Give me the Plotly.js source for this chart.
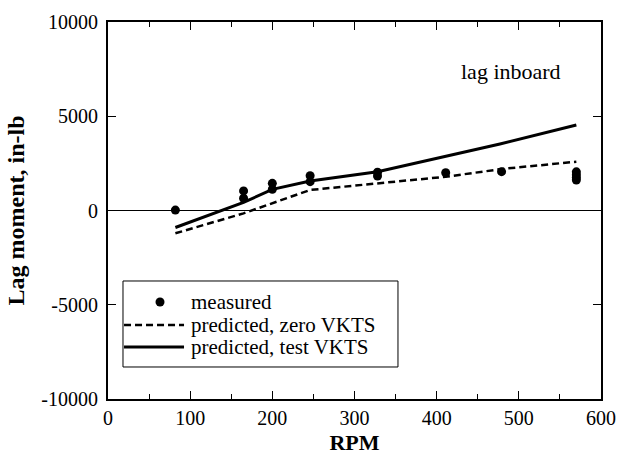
<!DOCTYPE html>
<html>
<head>
<meta charset="utf-8">
<script src="https://cdn.plot.ly/plotly-3.0.1.min.js"></script>
<style>html,body{margin:0;padding:0;background:#fff;}#chart{width:629px;height:465px;}</style>
</head>
<body>
<div id="chart"></div>
<script>
// Measured data
const measuredRPM = [82, 165, 165, 200, 200, 246, 246, 328, 328, 411, 479, 570, 570, 570, 570];
const measuredMoment = [20, 1040, 650, 1440, 1130, 1850, 1530, 2030, 1830, 2000, 2060, 2050, 1900, 1750, 1620];

// Predicted, zero VKTS (dashed)
const zeroRPM = [82, 165, 246, 328, 411, 479, 570];
const zeroMoment = [-1210, -150, 1090, 1440, 1790, 2200, 2590];

// Predicted, test VKTS (solid)
const testRPM = [82, 165, 200, 246, 328, 477, 570];
const testMoment = [-900, 430, 1120, 1560, 2060, 3530, 4540];

// Axis ticks
const xTicks = [0, 100, 200, 300, 400, 500, 600];
const xTickText = ['0', '100', '200', '300', '400', '500', '600'];
const yTicks = [-10000, -5000, 0, 5000, 10000];
const yTickText = ['-10000', '-5000', '0', '5000', '10000'];

const seriesNames = ['measured', 'predicted, zero VKTS', 'predicted, test VKTS'];

const serif = 'Liberation Serif, Times New Roman, serif';

const traces = [
  {x: measuredRPM, y: measuredMoment, mode: 'markers', type: 'scatter', name: seriesNames[0],
   marker: {color: '#000', size: 9}},
  {x: zeroRPM, y: zeroMoment, mode: 'lines', type: 'scatter', name: seriesNames[1],
   line: {color: '#000', width: 2.5, dash: '7px,4px'}},
  {x: testRPM, y: testMoment, mode: 'lines', type: 'scatter', name: seriesNames[2],
   line: {color: '#000', width: 3}}
];

// Legend geometry (paper coordinates)
const lg = {x0: 0.0304, x1: 0.5882, y0: 0.0849, y1: 0.3130,
            rows: [0.2573, 0.1963, 0.1379], symX0: 0.0325, symX1: 0.1542, dotX: 0.1055, textX: 0.1643};
const dotRx = 4.5 / 493, dotRy = 4.5 / 377;

const shapes = [
  {type: 'rect', xref: 'paper', yref: 'paper', x0: lg.x0, x1: lg.x1, y0: lg.y0, y1: lg.y1,
   line: {color: '#000', width: 1}, fillcolor: '#fff', layer: 'above'},
  {type: 'circle', xref: 'paper', yref: 'paper', x0: lg.dotX - dotRx, x1: lg.dotX + dotRx,
   y0: lg.rows[0] - dotRy, y1: lg.rows[0] + dotRy, fillcolor: '#000', line: {width: 0}, layer: 'above'},
  {type: 'line', xref: 'paper', yref: 'paper', x0: lg.symX0, x1: lg.symX1, y0: lg.rows[1], y1: lg.rows[1],
   line: {color: '#000', width: 2.5, dash: '7px,4px'}, layer: 'above'},
  {type: 'line', xref: 'paper', yref: 'paper', x0: lg.symX0, x1: lg.symX1, y0: lg.rows[2], y1: lg.rows[2],
   line: {color: '#000', width: 3}, layer: 'above'}
];

const annotations = [
  {x: 491, y: 7350, xref: 'x', yref: 'y', text: 'lag inboard', showarrow: false,
   font: {family: serif, size: 22, color: '#000'}}
];
seriesNames.forEach((n, i) => annotations.push({
  x: lg.textX, y: lg.rows[i], xref: 'paper', yref: 'paper', text: n, showarrow: false,
  xanchor: 'left', yanchor: 'middle', font: {family: serif, size: 21, color: '#000'}
}));

const layout = {
  width: 629, height: 465,
  margin: {l: 108, r: 28, t: 22, b: 66},
  paper_bgcolor: '#fff', plot_bgcolor: '#fff',
  font: {family: serif, color: '#000', size: 20},
  showlegend: false,
  xaxis: {range: [0, 600], tickvals: xTicks, ticktext: xTickText, ticks: 'inside', ticklen: 8,
          tickwidth: 1, tickcolor: '#000', showline: true, linecolor: '#000', linewidth: 2,
          mirror: 'ticks', showgrid: false, zeroline: false,
          minor: {dtick: 50, tick0: 0, ticks: 'inside', ticklen: 5, tickcolor: '#000', tickwidth: 1},
          tickfont: {family: serif, size: 20},
          title: {text: '<b>RPM</b>', font: {family: serif, size: 22}, standoff: 7}},
  yaxis: {range: [-10000, 10000], tickvals: yTicks, ticktext: yTickText, ticks: 'inside', ticklen: 8,
          tickwidth: 1, tickcolor: '#000', showline: true, linecolor: '#000', linewidth: 2,
          mirror: 'ticks', showgrid: false, zeroline: true, zerolinecolor: '#000', zerolinewidth: 1.5,
          ticklabelstandoff: 4,
          tickfont: {family: serif, size: 20},
          title: {text: '<b>Lag moment, in-lb</b>', font: {family: serif, size: 24}, standoff: 10}},
  shapes: shapes,
  annotations: annotations
};

Plotly.newPlot('chart', traces, layout, {staticPlot: true, displayModeBar: false});
</script>
</body>
</html>
